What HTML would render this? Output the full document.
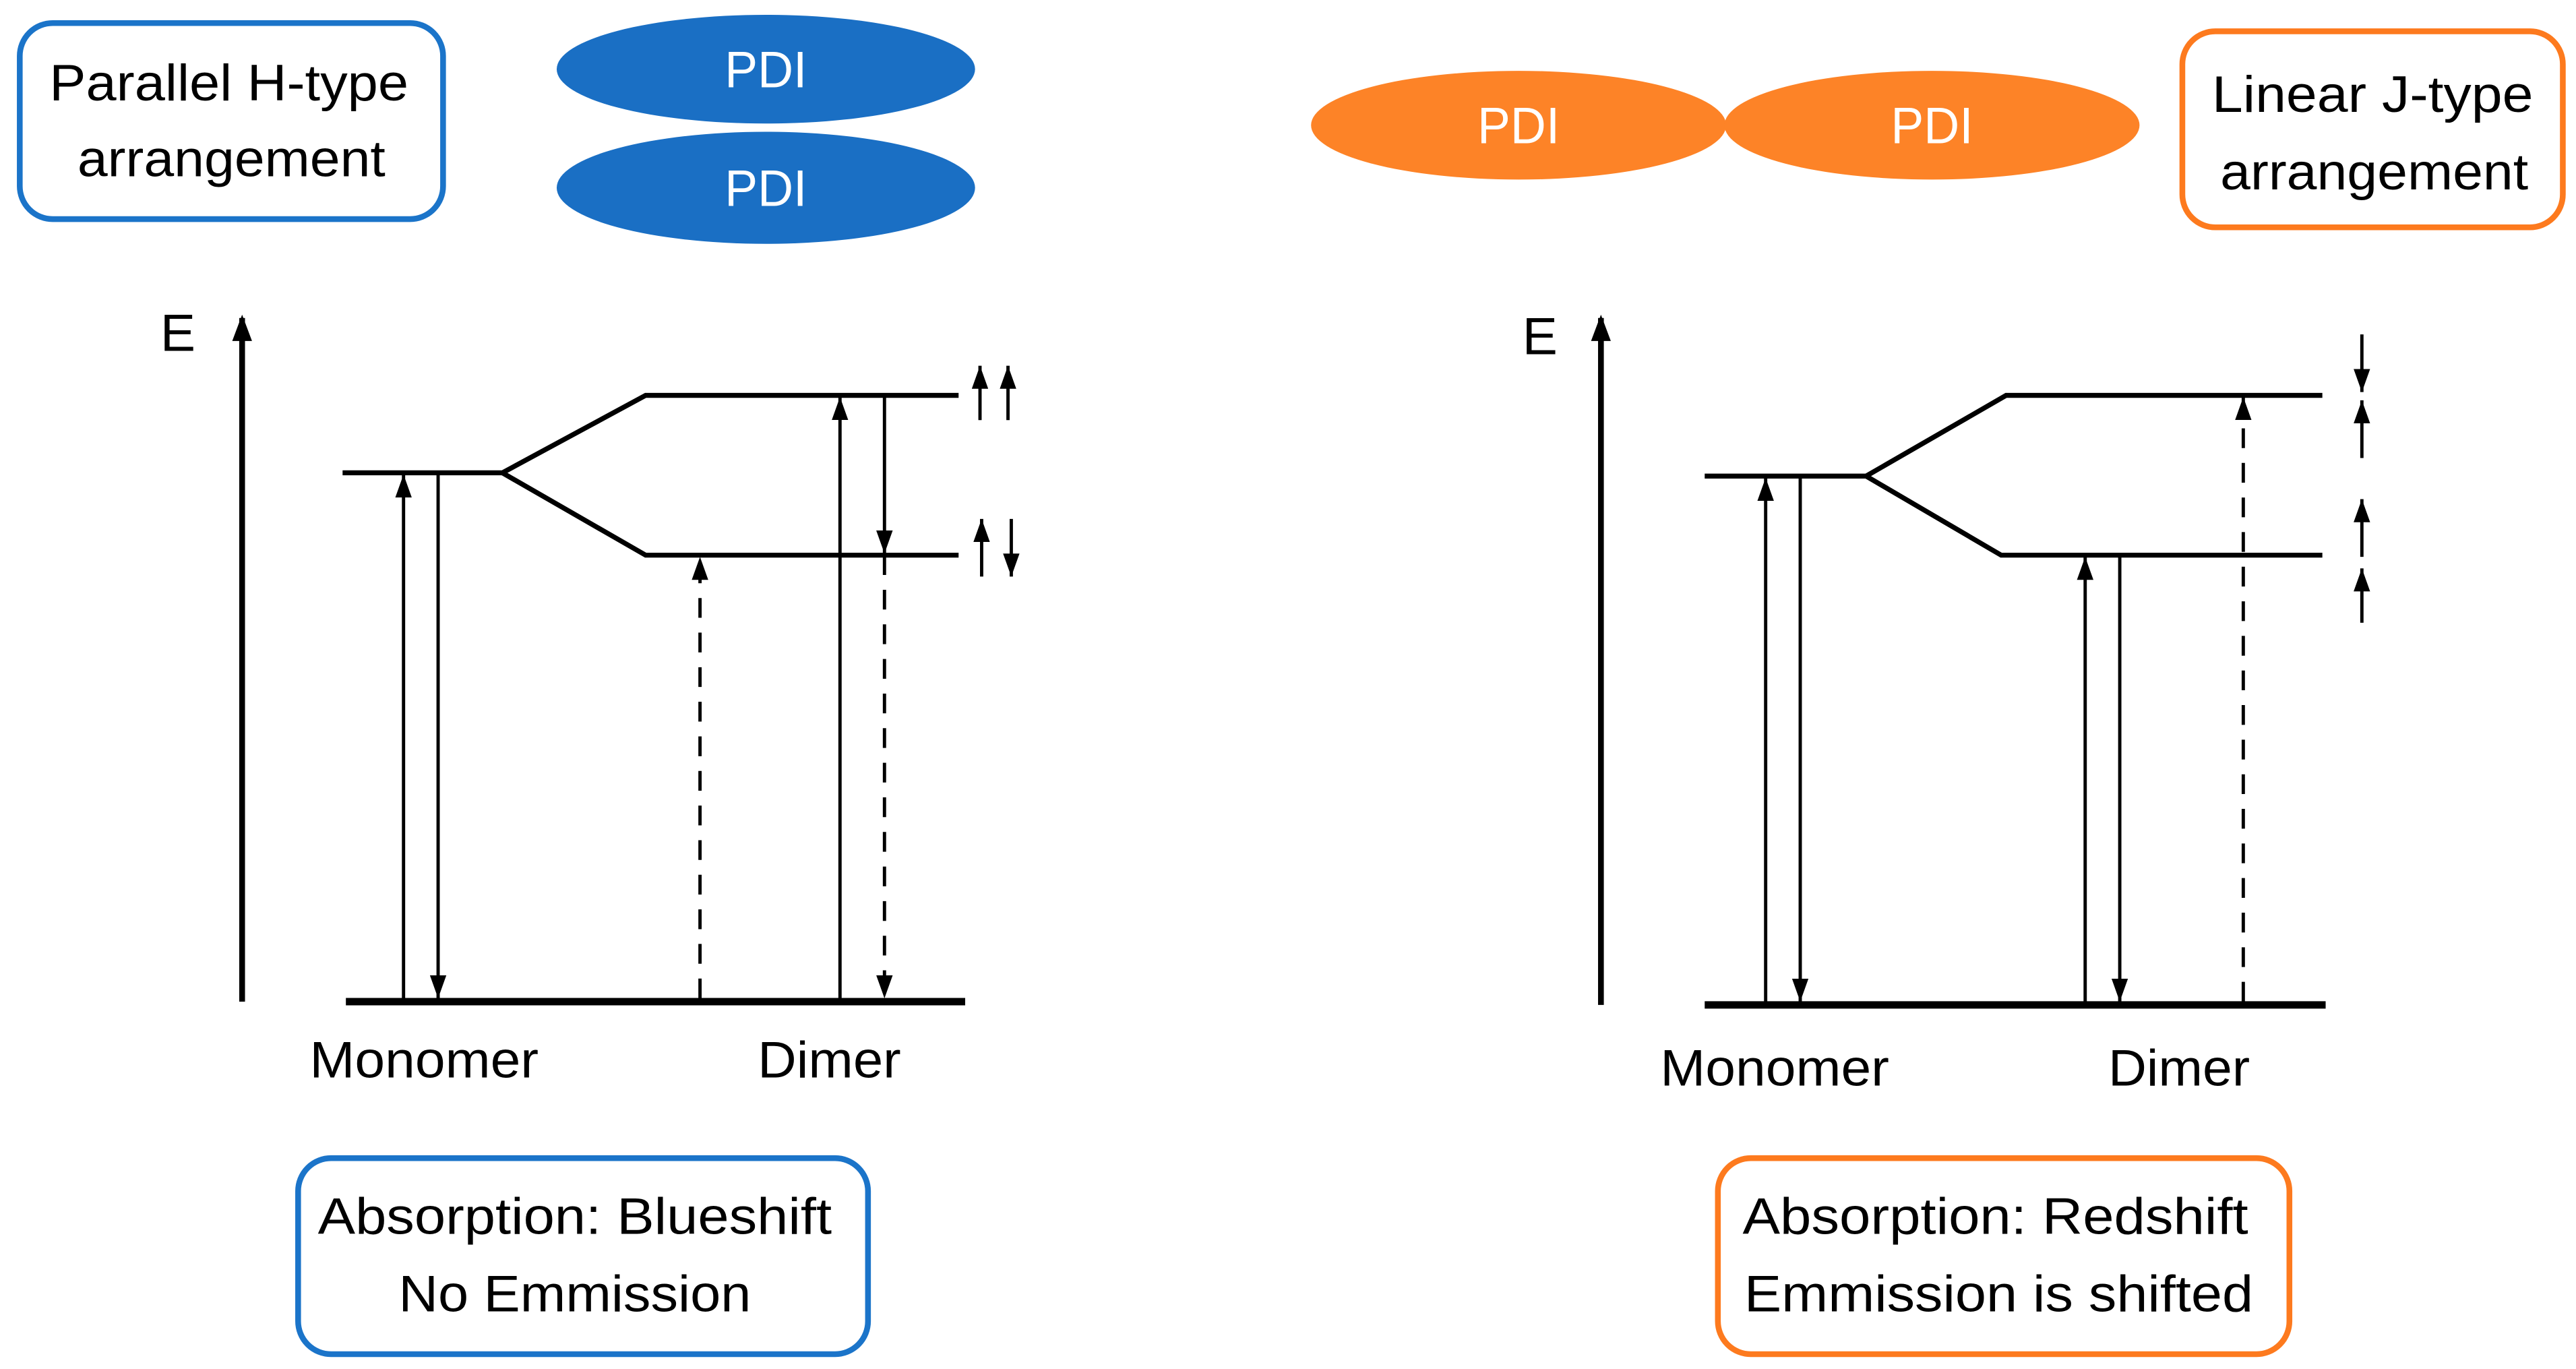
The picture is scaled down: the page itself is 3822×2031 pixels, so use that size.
<!DOCTYPE html>
<html><head><meta charset="utf-8"><style>html,body{margin:0;padding:0;background:#fff}svg{display:block}</style></head>
<body>
<svg width="3822" height="2031" viewBox="0 0 1564 831" preserveAspectRatio="none" xmlns="http://www.w3.org/2000/svg" font-family="Liberation Sans, sans-serif">
<defs>
<marker id="ah" markerWidth="14" markerHeight="10" refX="14" refY="5" orient="auto" markerUnits="userSpaceOnUse" viewBox="0 0 14 10">
<path d="M0,0 L14,5 L0,10 Z" fill="#000"/></marker>
<marker id="ax" markerWidth="16" markerHeight="12" refX="14" refY="6" orient="auto" markerUnits="userSpaceOnUse" viewBox="0 0 16 12">
<path d="M0,0 L16,6 L0,12 Z" fill="#000"/></marker>
</defs>
<rect width="1564" height="831" fill="#fff"/>
<!-- LEFT -->
<rect x="12" y="14" width="257" height="119" rx="20" fill="#fff" stroke="#1b74c9" stroke-width="3.5"/>
<text x="30" y="61" font-size="31" textLength="218" lengthAdjust="spacingAndGlyphs">Parallel H-type</text>
<text x="47" y="107" font-size="31" textLength="187" lengthAdjust="spacingAndGlyphs">arrangement</text>
<ellipse cx="465" cy="42" rx="127" ry="33" fill="#1a6fc4"/>
<ellipse cx="465" cy="114" rx="127" ry="34" fill="#1a6fc4"/>
<text x="440" y="53" font-size="31" fill="#fff" textLength="50" lengthAdjust="spacingAndGlyphs">PDI</text>
<text x="440" y="125" font-size="31" fill="#fff" textLength="50" lengthAdjust="spacingAndGlyphs">PDI</text>
<text x="108" y="213" font-size="32" text-anchor="middle">E</text>
<line x1="147" y1="608" x2="147" y2="193" stroke="#000" stroke-width="3.5" marker-end="url(#ax)"/>
<g stroke="#000" stroke-width="3" fill="none">
<polyline points="208,287 305,287 392,240 582,240"/>
<polyline points="305,287 392,337 582,337"/>
</g>
<line x1="210" y1="608" x2="586" y2="608" stroke="#000" stroke-width="4.5"/>
<g stroke="#000" stroke-width="2">
<line x1="245" y1="608" x2="245" y2="288" marker-end="url(#ah)"/>
<line x1="266" y1="287" x2="266" y2="606" marker-end="url(#ah)"/>
<line x1="425" y1="606" x2="425" y2="338" stroke-dasharray="12,9" marker-end="url(#ah)"/>
<line x1="510" y1="606" x2="510" y2="241" marker-end="url(#ah)"/>
<line x1="537" y1="240" x2="537" y2="336" marker-end="url(#ah)"/>
<line x1="537" y1="337" x2="537" y2="606" stroke-dasharray="12,9" marker-end="url(#ah)"/>
<line x1="595" y1="255" x2="595" y2="222" marker-end="url(#ah)"/>
<line x1="612" y1="255" x2="612" y2="222" marker-end="url(#ah)"/>
<line x1="596" y1="350" x2="596" y2="315" marker-end="url(#ah)"/>
<line x1="614" y1="315" x2="614" y2="350" marker-end="url(#ah)"/>
</g>
<text x="188" y="654" font-size="31" textLength="139" lengthAdjust="spacingAndGlyphs">Monomer</text>
<text x="460" y="654" font-size="31" textLength="87" lengthAdjust="spacingAndGlyphs">Dimer</text>
<rect x="181" y="703" width="346" height="119" rx="20" fill="#fff" stroke="#1b74c9" stroke-width="3.5"/>
<text x="193" y="749" font-size="31" textLength="312" lengthAdjust="spacingAndGlyphs">Absorption:  Blueshift</text>
<text x="242" y="796" font-size="31" textLength="214" lengthAdjust="spacingAndGlyphs">No Emmission</text>
<!-- RIGHT -->
<ellipse cx="922" cy="76" rx="126" ry="33" fill="#fd8327"/>
<ellipse cx="1173" cy="76" rx="126" ry="33" fill="#fd8327"/>
<text x="897" y="87" font-size="31" fill="#fff" textLength="50" lengthAdjust="spacingAndGlyphs">PDI</text>
<text x="1148" y="87" font-size="31" fill="#fff" textLength="50" lengthAdjust="spacingAndGlyphs">PDI</text>
<rect x="1325" y="19" width="231" height="119" rx="20" fill="#fff" stroke="#fd7a1e" stroke-width="3.5"/>
<text x="1343" y="68" font-size="31" textLength="195" lengthAdjust="spacingAndGlyphs">Linear J-type</text>
<text x="1348" y="115" font-size="31" textLength="187" lengthAdjust="spacingAndGlyphs">arrangement</text>
<text x="935" y="215" font-size="32" text-anchor="middle">E</text>
<line x1="972" y1="610" x2="972" y2="193" stroke="#000" stroke-width="3.5" marker-end="url(#ax)"/>
<g stroke="#000" stroke-width="3" fill="none">
<polyline points="1035,289 1133,289 1218,240 1410,240"/>
<polyline points="1133,289 1215,337 1410,337"/>
</g>
<line x1="1035" y1="610" x2="1412" y2="610" stroke="#000" stroke-width="4.5"/>
<g stroke="#000" stroke-width="2">
<line x1="1072" y1="608" x2="1072" y2="290" marker-end="url(#ah)"/>
<line x1="1093" y1="289" x2="1093" y2="608" marker-end="url(#ah)"/>
<line x1="1266" y1="608" x2="1266" y2="338" marker-end="url(#ah)"/>
<line x1="1287" y1="337" x2="1287" y2="608" marker-end="url(#ah)"/>
<line x1="1362" y1="608" x2="1362" y2="241" stroke-dasharray="12,9" marker-end="url(#ah)"/>
<line x1="1434" y1="203" x2="1434" y2="238" marker-end="url(#ah)"/>
<line x1="1434" y1="278" x2="1434" y2="243" marker-end="url(#ah)"/>
<line x1="1434" y1="338" x2="1434" y2="303" marker-end="url(#ah)"/>
<line x1="1434" y1="378" x2="1434" y2="345" marker-end="url(#ah)"/>
</g>
<text x="1008" y="659" font-size="31" textLength="139" lengthAdjust="spacingAndGlyphs">Monomer</text>
<text x="1280" y="659" font-size="31" textLength="86" lengthAdjust="spacingAndGlyphs">Dimer</text>
<rect x="1043" y="703" width="347" height="119" rx="20" fill="#fff" stroke="#fd7a1e" stroke-width="3.5"/>
<text x="1058" y="749" font-size="31" textLength="307" lengthAdjust="spacingAndGlyphs">Absorption:  Redshift</text>
<text x="1059" y="796" font-size="31" textLength="309" lengthAdjust="spacingAndGlyphs">Emmission  is shifted</text>
</svg>
</body></html>
